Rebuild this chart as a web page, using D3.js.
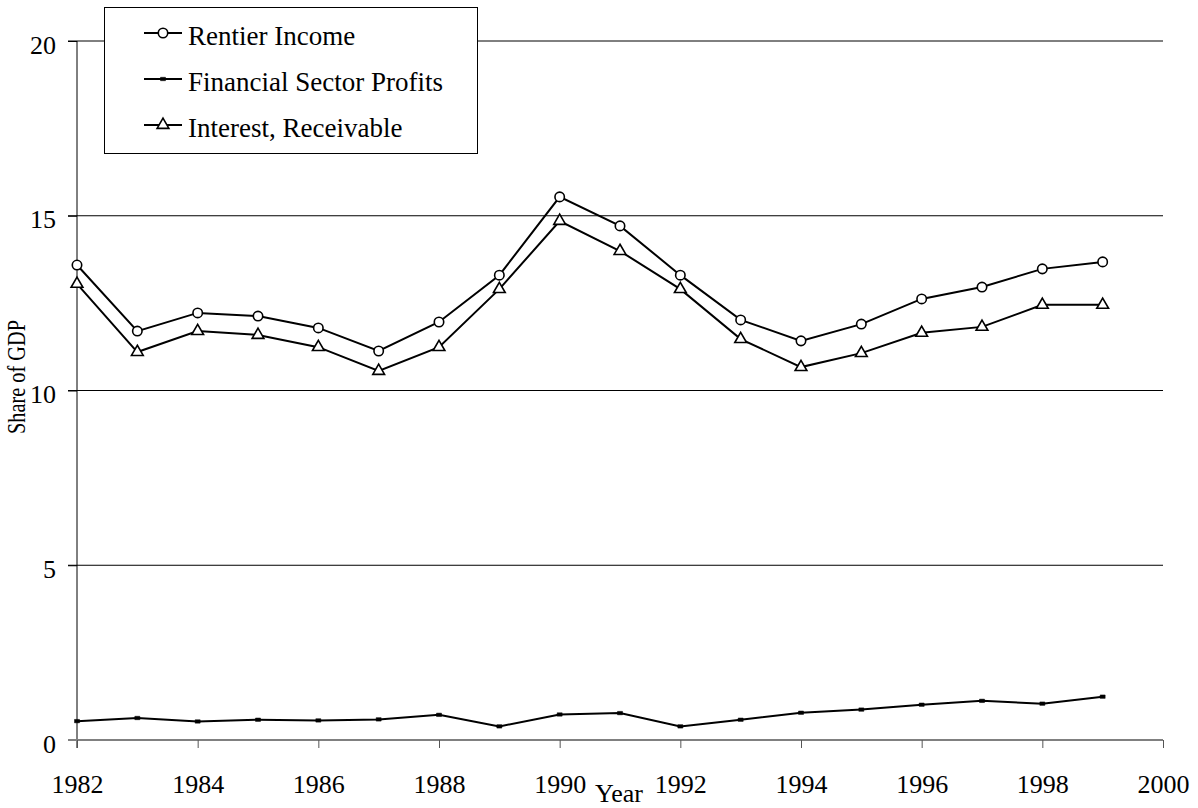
<!DOCTYPE html>
<html>
<head>
<meta charset="utf-8">
<script src="https://cdn.jsdelivr.net/npm/d3@7"></script>
<style>
  body { margin: 0; background: #fff; }
  svg { display: block; font-family: "Liberation Serif", "Times New Roman", serif; }
</style>
</head>
<body>
<div id="vis"></div>
<script>
// share of GDP
var years = [1982, 1983, 1984, 1985, 1986, 1987, 1988, 1989, 1990, 1991, 1992, 1993, 1994, 1995, 1996, 1997, 1998, 1999];
var rentier = [13.59, 11.70, 12.22, 12.13, 11.79, 11.13, 11.96, 13.30, 15.54, 14.71, 13.30, 12.02, 11.42, 11.90, 12.62, 12.96, 13.48, 13.68];
var finProfits = [0.54, 0.63, 0.53, 0.58, 0.56, 0.59, 0.72, 0.39, 0.73, 0.77, 0.39, 0.58, 0.78, 0.87, 1.01, 1.12, 1.04, 1.24];
var interest = [13.05, 11.10, 11.70, 11.59, 11.24, 10.56, 11.24, 12.90, 14.85, 13.99, 12.90, 11.47, 10.67, 11.07, 11.65, 11.82, 12.45, 12.45];
var xTicks = [1982, 1984, 1986, 1988, 1990, 1992, 1994, 1996, 1998, 2000];
var yTicks = [0, 5, 10, 15, 20];
var legendNames = ["Rentier Income", "Financial Sector Profits", "Interest, Receivable"];

var width = 1198;
var height = 808;
var plotL = 77, plotR = 1163, plotT = 41, plotB = 740;

var svg = d3.select("#vis")
        .append("svg")
        .attr("width", width)
        .attr("height", height);

var x = d3.scaleLinear().domain([1982, 2000]).range([plotL, plotR]);
var y = d3.scaleLinear().domain([0, 20]).range([plotB, plotT]);

// gridlines
svg.append("g")
    .selectAll("line")
    .data(yTicks.filter(d => d > 0))
    .join("line")
    .attr("x1", plotL - 9)
    .attr("x2", plotR)
    .attr("y1", d => y(d))
    .attr("y2", d => y(d))
    .attr("stroke", "#000")
    .attr("stroke-width", 1);

// y axis
var yAxis = svg.append("g")
    .attr("transform", `translate(${plotL},0)`)
    .call(d3.axisLeft(y).tickValues(yTicks).tickSize(9).tickPadding(12));
yAxis.select(".domain").attr("stroke", "#000").attr("d", `M0,${plotT}V${plotB + 8}`);
yAxis.selectAll(".tick line").attr("stroke", "#000");
yAxis.selectAll(".tick text")
    .style("font-family", "Liberation Serif")
    .style("font-size", "26px")
    .attr("dy", "0.47em")
    .attr("fill", "#000");

// x axis
var xAxis = svg.append("g")
    .attr("transform", `translate(0,${plotB})`)
    .call(d3.axisBottom(x).tickValues(xTicks).tickFormat(d3.format("d")).tickSize(8));
xAxis.select(".domain").attr("stroke", "#808080").attr("stroke-width", 2).attr("d", `M${plotL - 9},0H${plotR}`);
xAxis.selectAll(".tick line").attr("stroke", "#555");
xAxis.selectAll(".tick text")
    .style("font-family", "Liberation Serif")
    .style("font-size", "26px")
    .attr("y", 53)
    .attr("dy", 0)
    .attr("fill", "#000");

// axis titles
svg.append("text")
    .attr("transform", `translate(25,377) rotate(-90)`)
    .attr("text-anchor", "middle")
    .attr("textLength", 114)
    .attr("lengthAdjust", "spacingAndGlyphs")
    .style("font-size", "26px")
    .text("Share of GDP");

svg.append("text")
    .attr("x", 619)
    .attr("y", 802)
    .attr("text-anchor", "middle")
    .style("font-size", "26px")
    .text("Year");

var line = d3.line()
    .x((d, i) => x(years[i]))
    .y(d => y(d));

[rentier, finProfits, interest].forEach(function(series) {
  svg.append("path")
      .datum(series)
      .attr("d", line)
      .attr("fill", "none")
      .attr("stroke", "#000")
      .attr("stroke-width", 2);
});

var circleSym = d3.symbol().type(d3.symbolCircle).size(70);
var triSym = d3.symbol().type(d3.symbolTriangle).size(60);
var squarePath = "M-2.5,-1.7H2.5V1.7H-2.5Z";

function markerPath(kind) {
  return kind == "circle" ? circleSym() : kind == "tri" ? triSym() : squarePath;
}

function drawMarkers(series, kind) {
  svg.append("g")
    .selectAll("path")
    .data(series)
    .join("path")
    .attr("transform", (d, i) => `translate(${x(years[i])},${y(d)})`)
    .attr("d", markerPath(kind))
    .attr("fill", kind == "square" ? "#000" : "#fff")
    .attr("stroke", "#000")
    .attr("stroke-width", kind == "square" ? 0.5 : 1.6);
}
drawMarkers(rentier, "circle");
drawMarkers(finProfits, "square");
drawMarkers(interest, "tri");

// legend
var legend = svg.append("g");
legend.append("rect")
    .attr("x", 104.5)
    .attr("y", 7.5)
    .attr("width", 373)
    .attr("height", 146)
    .attr("fill", "#fff")
    .attr("stroke", "#000")
    .attr("stroke-width", 1);

var kinds = ["circle", "square", "tri"];
legendNames.forEach(function(name, i) {
  var ly = 33 + i * 46;
  legend.append("line")
      .attr("x1", 144).attr("x2", 182)
      .attr("y1", ly).attr("y2", ly)
      .attr("stroke", "#000")
      .attr("stroke-width", 2);
  legend.append("path")
      .attr("transform", `translate(163,${ly})`)
      .attr("d", markerPath(kinds[i]))
      .attr("fill", kinds[i] == "square" ? "#000" : "#fff")
      .attr("stroke", "#000")
      .attr("stroke-width", kinds[i] == "square" ? 0.5 : 1.6);
  legend.append("text")
      .attr("x", 188)
      .attr("y", ly + 12)
      .style("font-size", "27px")
      .text(name);
});
</script>
</body>
</html>
